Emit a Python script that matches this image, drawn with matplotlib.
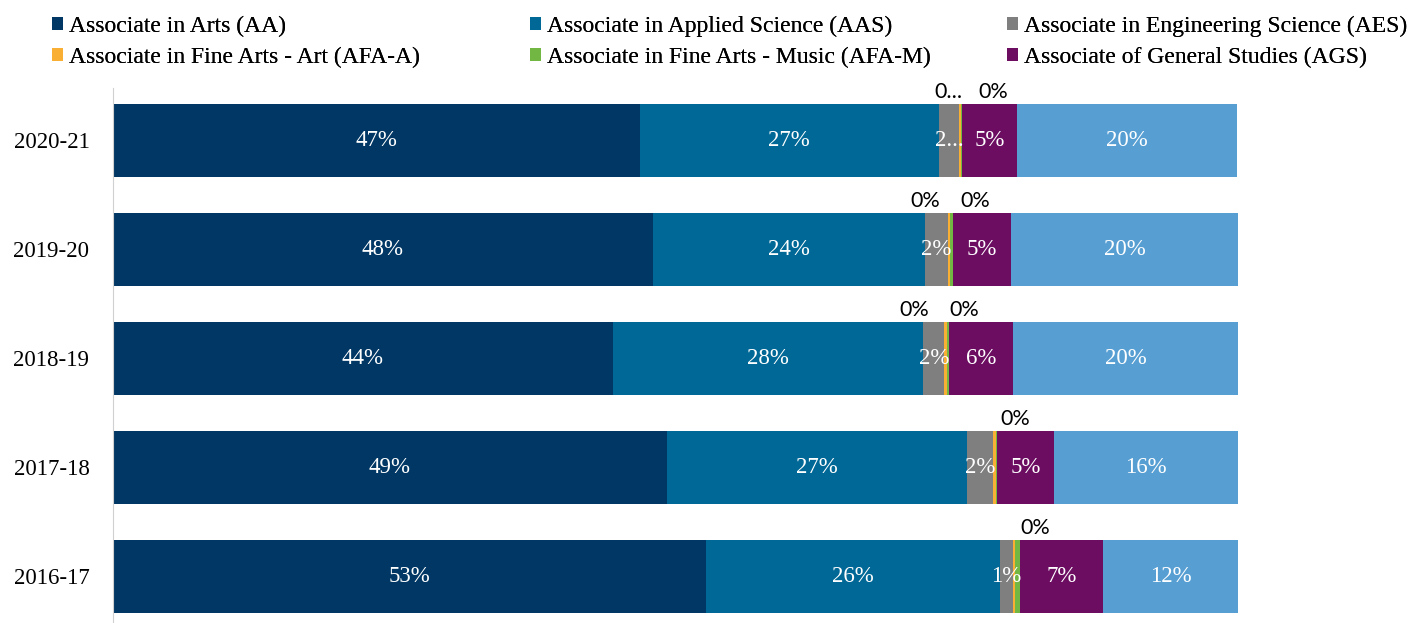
import matplotlib
matplotlib.use("Agg")
from matplotlib import pyplot as plt
import numpy as np

years = ["2016-17", "2017-18", "2018-19", "2019-20", "2020-21"]

# share of degrees (%)
aa = [52.7, 49.2, 44.4, 48.0, 46.8]
aas = [26.1, 26.7, 27.6, 24.2, 26.6]
aes = [1.2, 2.3, 1.9, 2.0, 1.8]
afa_a = [0.2, 0.25, 0.2, 0.2, 0.2]
afa_m = [0.4, 0.1, 0.2, 0.25, 0.05]
ags = [7.4, 5.1, 5.7, 5.2, 4.9]
other = [12.0, 16.4, 20.0, 20.2, 19.6]

aa_lbl = ["53%", "49%", "44%", "48%", "47%"]
aas_lbl = ["26%", "27%", "28%", "24%", "27%"]
aes_lbl = ["1%", "2%", "2%", "2%", "2..."]
ags_lbl = ["7%", "5%", "6%", "5%", "5%"]
other_lbl = ["12%", "16%", "20%", "20%", "20%"]
afa_a_lbl = [None, None, "0%", "0%", "0..."]
afa_m_lbl = ["0%", "0%", "0%", "0%", "0%"]

names = ["Associate in Arts (AA)", "Associate in Applied Science (AAS)",
         "Associate in Engineering Science (AES)", "Associate in Fine Arts - Art (AFA-A)",
         "Associate in Fine Arts - Music (AFA-M)", "Associate of General Studies (AGS)", None]
colors = ["#003764", "#006896", "#7f7f7f", "#f9ae34", "#72b743", "#6c0d62", "#579fd3"]

series = [aa, aas, aes, afa_a, afa_m, ags, other]
inside = [aa_lbl, aas_lbl, aes_lbl, None, None, ags_lbl, other_lbl]

# callout offsets for the tiny fine-arts segments (layout only)
off_a = [0, 0, -2.8, -2.1, -1.0]
off_m = [1.6, 1.7, 1.5, 2.1, 2.8]

fig = plt.figure(figsize=(14.14, 6.23), dpi=100)
ax = fig.add_axes([113 / 1414, 1 - 622 / 623, 1125 / 1414, 534 / 623])

y = np.arange(len(years))
left = np.zeros(len(years))
handles = []
for vals, col, name, lbls in zip(series, colors, names, inside):
    bars = ax.barh(y, vals, left=left, height=0.67, color=col, edgecolor="none")
    if name:
        handles.append((bars, name))
    if lbls:
        for i, v in enumerate(vals):
            ax.text(left[i] + v / 2, y[i], lbls[i], ha="center", va="center",
                    color="white", fontsize=16.5, family="Liberation Serif")
    left += np.array(vals)

start_a = np.array(aa) + np.array(aas) + np.array(aes)
for i in range(len(years)):
    ca = start_a[i] + afa_a[i] / 2
    cm = start_a[i] + afa_a[i] + afa_m[i] / 2
    if afa_a_lbl[i]:
        ax.text(ca + off_a[i], y[i] + 0.44, afa_a_lbl[i], ha="center", va="center",
                fontsize=15.5, color="black", family="Lato")
    if afa_m_lbl[i]:
        ax.text(cm + off_m[i], y[i] + 0.44, afa_m_lbl[i], ha="center", va="center",
                fontsize=15.5, color="black", family="Lato")

ax.set_xlim(0, 100)
ax.set_ylim(-0.42, 4.48)
ax.set_yticks(y)
ax.set_yticklabels(years, family="Liberation Serif", fontsize=16.5)
ax.tick_params(axis="y", length=0, pad=17)
ax.set_xticks([])
for s in ["top", "right", "bottom"]:
    ax.spines[s].set_visible(False)
ax.spines["left"].set_color("#d0d0d0")

# legend laid out as three columns, row by row like the original
legend_cols = [[0, 3], [1, 4], [2, 5]]
col_x = [52, 530, 1007]
for idx, cx in zip(legend_cols, col_x):
    leg = fig.legend([handles[k][0] for k in idx], [handles[k][1] for k in idx],
                     loc="upper left", bbox_to_anchor=(cx / 1414, 1 - 16 / 623),
                     frameon=False, borderpad=0, borderaxespad=0,
                     prop={"family": "Liberation Serif", "size": 17},
                     handlelength=0.47, handleheight=0.47, handletextpad=0.25,
                     labelspacing=0.4)
    fig.add_artist(leg)

fig.savefig("out.png", dpi=100)
